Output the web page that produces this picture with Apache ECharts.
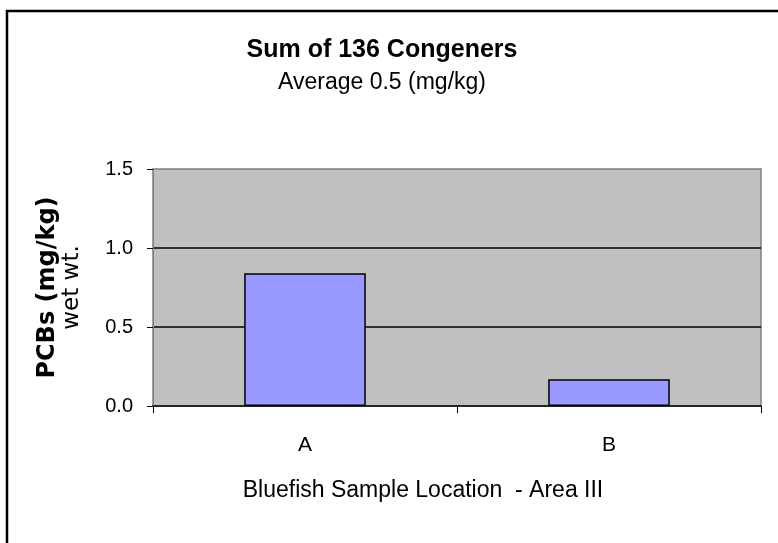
<!DOCTYPE html>
<html>
<head>
<meta charset="utf-8">
<script src="https://cdn.jsdelivr.net/npm/echarts@6/dist/echarts.min.js"></script>
<style>
  html, body { margin: 0; padding: 0; background: #fff; }
  #chart { width: 778px; height: 543px; }
</style>
</head>
<body>
<div id="chart"></div>
<script>
  // data
  const categories = ['A', 'B']
  const pcbValues = [0.84, 0.17]
  const yTicks = [0, 0.5, 1.0, 1.5]

  const font = "'Liberation Sans', Arial, sans-serif"
  const myChart = echarts.init(document.getElementById('chart'))

  const option = {
    backgroundColor: '#fff',
    animation: false,
    title: {
      text: 'Sum of 136 Congeners',
      subtext: 'Average 0.5 (mg/kg)',
      left: 377,
      top: 33,
      textAlign: 'center',
      itemGap: 8,
      textStyle: { fontFamily: font, fontSize: 25, fontWeight: 'bold', color: '#000' },
      subtextStyle: { fontFamily: font, fontSize: 23, color: '#000' }
    },
    graphic: [
      {
        // outer frame of the original figure (cut off at right and bottom)
        type: 'rect',
        shape: { x: 7, y: 11, width: 820, height: 600 },
        style: { fill: 'none', stroke: '#000', lineWidth: 2.5 },
        silent: true
      }
    ],
    grid: {
      left: 153,
      right: 17,
      top: 169,
      bottom: 137,
      show: true,
      backgroundColor: '#C0C0C0',
      borderColor: '#808080',
      borderWidth: 1.5
    },
    xAxis: {
      type: 'category',
      data: categories,
      name: 'Bluefish Sample Location  - Area III',
      nameLocation: 'middle',
      nameGap: 73,
      nameTextStyle: {
        fontFamily: font, fontSize: 23, color: '#000',
        padding: [0, 68, 0, 0]
      },
      axisLine: { lineStyle: { color: '#000', width: 1.5 } },
      axisTick: { show: true, length: 7, lineStyle: { color: '#000' } },
      axisLabel: { fontFamily: font, fontSize: 21, color: '#000', margin: 29 }
    },
    yAxis: {
      type: 'value',
      min: yTicks[0],
      max: yTicks[yTicks.length - 1],
      interval: 0.5,
      name: '{a|PCBs (mg/kg)}\n{b|wet wt.}',
      nameLocation: 'middle',
      nameGap: 69,
      nameTextStyle: {
        rich: {
          a: { fontFamily: 'DejaVu Sans', fontSize: 24, fontWeight: 'bold', color: '#000', lineHeight: 24, align: 'center' },
          b: { fontFamily: 'DejaVu Sans', fontSize: 23, color: '#000', lineHeight: 24, align: 'center' }
        }
      },
      axisLine: { show: true, lineStyle: { color: '#808080', width: 1 } },
      axisTick: { show: true, length: 6, lineStyle: { color: '#000' } },
      axisLabel: {
        fontFamily: font, fontSize: 20, color: '#000', margin: 20,
        formatter: v => v.toFixed(1)
      },
      splitLine: {
        show: true,
        showMinLine: false,
        showMaxLine: false,
        lineStyle: { color: '#000', width: 1.5 }
      }
    },
    series: [
      {
        name: 'PCBs',
        type: 'bar',
        data: pcbValues,
        barWidth: '40%',
        itemStyle: { color: '#9999FF', borderColor: '#000', borderWidth: 1.5 }
      }
    ]
  }

  myChart.setOption(option)
</script>
</body>
</html>
